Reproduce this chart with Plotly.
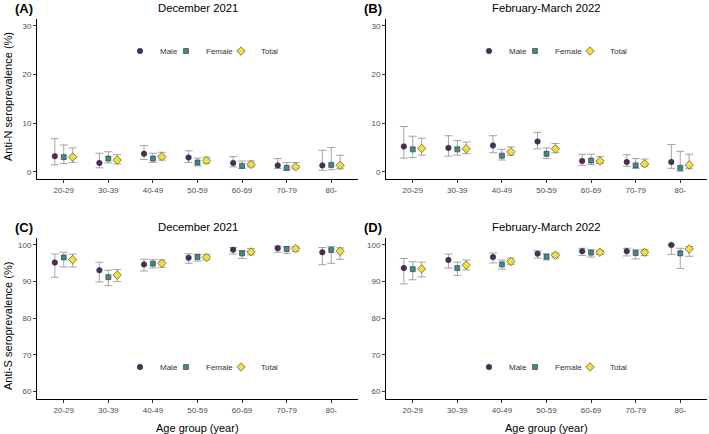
import plotly.graph_objects as go

age_groups = ["20-29", "30-39", "40-49", "50-59", "60-69", "70-79", "80-"]
series_names = ["Male", "Female", "Total"]

# Panel A: Anti-N, December 2021
a_male = [3.2, 1.8, 3.7, 2.9, 1.8, 1.3, 1.3]
a_male_lo = [1.4, 0.8, 2.5, 1.9, 1.0, 0.7, 0.3]
a_male_hi = [6.8, 3.8, 5.4, 4.3, 3.1, 2.7, 4.4]
a_female = [3.0, 2.7, 2.7, 1.9, 1.2, 0.8, 1.4]
a_female_lo = [1.7, 1.8, 1.9, 1.2, 0.7, 0.3, 0.4]
a_female_hi = [5.5, 4.1, 3.8, 2.8, 2.2, 1.9, 5.0]
a_total = [3.0, 2.4, 3.1, 2.3, 1.5, 1.0, 1.3]
a_total_lo = [1.9, 1.6, 2.4, 1.7, 1.0, 0.6, 0.6]
a_total_hi = [4.9, 3.5, 4.0, 3.0, 2.2, 1.9, 3.4]

# Panel B: Anti-N, February-March 2022
b_male = [5.2, 4.9, 5.4, 6.2, 2.2, 2.0, 2.0]
b_male_lo = [2.8, 3.2, 3.9, 4.7, 1.3, 1.1, 0.7]
b_male_hi = [9.3, 7.4, 7.4, 8.1, 3.6, 3.5, 5.6]
b_female = [4.6, 4.6, 3.3, 3.7, 2.3, 1.3, 0.8]
b_female_lo = [2.9, 3.4, 2.4, 2.7, 1.5, 0.7, 0.1]
b_female_hi = [7.3, 6.4, 4.6, 4.9, 3.6, 2.7, 4.2]
b_total = [4.8, 4.7, 4.1, 4.7, 2.2, 1.6, 1.4]
b_total_lo = [3.4, 3.7, 3.4, 3.9, 1.7, 1.1, 0.6]
b_total_hi = [6.9, 6.1, 5.1, 5.8, 3.1, 2.6, 3.6]

# Panel C: Anti-S, December 2021
c_male = [95.2, 93.1, 94.7, 96.5, 98.7, 99.1, 98.0]
c_male_lo = [91.2, 89.9, 92.9, 95.0, 97.5, 98.0, 94.6]
c_male_hi = [97.5, 95.3, 96.1, 97.6, 99.3, 99.7, 99.3]
c_female = [96.6, 91.2, 94.9, 96.7, 97.7, 98.9, 98.6]
c_female_lo = [94.0, 88.9, 93.7, 95.6, 96.3, 97.7, 95.0]
c_female_hi = [98.0, 93.1, 96.0, 97.5, 98.5, 99.5, 99.6]
c_total = [96.0, 91.8, 95.0, 96.6, 98.1, 99.0, 98.3]
c_total_lo = [94.0, 90.0, 93.9, 95.9, 97.3, 98.2, 96.1]
c_total_hi = [97.5, 93.3, 95.9, 97.4, 99.0, 99.5, 99.2]

# Panel D: Anti-S, February-March 2022
d_male = [93.7, 95.9, 96.7, 97.6, 98.3, 98.3, 100.0]
d_male_lo = [89.4, 93.7, 95.1, 96.4, 97.1, 97.0, 97.4]
d_male_hi = [96.3, 97.5, 97.8, 98.4, 99.1, 99.1, 100.0]
d_female = [93.4, 93.7, 94.7, 96.8, 97.9, 97.8, 97.7]
d_female_lo = [90.5, 91.7, 93.4, 95.9, 96.7, 96.2, 93.6]
d_female_hi = [95.4, 95.3, 95.9, 97.6, 98.7, 98.7, 99.1]
d_total = [93.5, 94.5, 95.5, 97.2, 98.0, 98.0, 98.9]
d_total_lo = [91.3, 93.2, 94.7, 96.5, 97.4, 97.1, 96.9]
d_total_hi = [95.3, 95.9, 96.4, 97.8, 98.5, 98.7, 99.6]

panel_titles = ["December 2021", "February-March 2022", "December 2021", "February-March 2022"]
panel_labels = ["(A)", "(B)", "(C)", "(D)"]
y_titles = ["Anti-N seroprevalence (%)", "Anti-S seroprevalence (%)"]
x_title = "Age group (year)"

colors = ["#4A2C5E", "#3A8D89", "#F2DF3A"]
symbols = ["circle", "square", "diamond"]
marker_sizes = [5.5, 5, 6.5]
legend_widths = [1, 10, 0]

panels = [
    [(a_male, a_male_lo, a_male_hi), (a_female, a_female_lo, a_female_hi), (a_total, a_total_lo, a_total_hi)],
    [(b_male, b_male_lo, b_male_hi), (b_female, b_female_lo, b_female_hi), (b_total, b_total_lo, b_total_hi)],
    [(c_male, c_male_lo, c_male_hi), (c_female, c_female_lo, c_female_hi), (c_total, c_total_lo, c_total_hi)],
    [(d_male, d_male_lo, d_male_hi), (d_female, d_female_lo, d_female_hi), (d_total, d_total_lo, d_total_hi)],
]

W, H = 709, 434
FONT = "Liberation Sans, Arial, sans-serif"

xdom = [[37 / W, 358 / W], [386 / W, 707 / W], [37 / W, 358 / W], [386 / W, 707 / W]]
ydom = [[1 - 179 / H, 1 - 18.6 / H], [1 - 179 / H, 1 - 18.6 / H],
        [1 - 399 / H, 1 - 237.6 / H], [1 - 399 / H, 1 - 237.6 / H]]
yranges = [[-1.5, 31.5], [-1.5, 31.5], [58, 102], [58, 102]]
ytickvals = [[0, 10, 20, 30], [0, 10, 20, 30], [60, 70, 80, 90, 100], [60, 70, 80, 90, 100]]
legend_pos = [(120 / W, 1 - 51 / H), (469 / W, 1 - 51 / H),
              (120 / W, 1 - 367 / H), (469 / W, 1 - 367 / H)]

fig = go.Figure()
layout = dict(
    width=W, height=H,
    margin=dict(l=0, r=0, t=0, b=0),
    paper_bgcolor="white", plot_bgcolor="white",
    font=dict(family=FONT, color="#4D4D4D", size=8),
    scattermode="group", scattergap=0.4,
)

annotations = []
for p in range(4):
    xa = "x" if p == 0 else f"x{p + 1}"
    ya = "y" if p == 0 else f"y{p + 1}"
    lg = "legend" if p == 0 else f"legend{p + 1}"
    for s in range(3):
        est, lo, hi = panels[p][s]
        tr = dict(
            x=age_groups, y=est, name=series_names[s], mode="markers",
            xaxis=xa, yaxis=ya, legend=lg, showlegend=True,
            marker=dict(symbol=symbols[s], color=colors[s], size=marker_sizes[s],
                        line=dict(color="#333333", width=0.6)),
            error_y=dict(type="data", symmetric=False,
                         array=[h - e for h, e in zip(hi, est)],
                         arrayminus=[e - l for e, l in zip(est, lo)],
                         color="#9A9A9A", thickness=0.9, width=4),
        )
        if legend_widths[s]:
            tr["legendwidth"] = legend_widths[s]
        fig.add_trace(go.Scatter(**tr))
    axname_x = "xaxis" if p == 0 else f"xaxis{p + 1}"
    axname_y = "yaxis" if p == 0 else f"yaxis{p + 1}"
    layout[axname_x] = dict(
        domain=xdom[p], anchor=ya, type="category", categoryorder="array",
        categoryarray=age_groups, range=[-0.6, 6.6], showgrid=False, zeroline=False,
        showline=True, linecolor="black", linewidth=1, ticks="outside", ticklen=3,
        tickcolor="#333333", tickfont=dict(size=8, color="#4D4D4D"), fixedrange=True,
    )
    layout[axname_y] = dict(
        domain=ydom[p], anchor=xa, range=yranges[p], tickvals=ytickvals[p],
        showgrid=False, zeroline=False, showline=True, linecolor="black", linewidth=1,
        ticks="outside", ticklen=3, tickcolor="#333333",
        tickfont=dict(size=8, color="#4D4D4D"),
    )
    layout[lg] = dict(
        orientation="h", x=legend_pos[p][0], y=legend_pos[p][1],
        xanchor="left", yanchor="middle", bgcolor="rgba(0,0,0,0)",
        font=dict(size=8, color="#333333"), itemclick=False, itemdoubleclick=False,
        tracegroupgap=0,
    )
    cx = (xdom[p][0] + xdom[p][1]) / 2
    ty = 1 - 8 / H if p < 2 else 1 - 227 / H
    annotations.append(dict(text=panel_titles[p], x=cx, y=ty, xref="paper", yref="paper",
                            showarrow=False, xanchor="center", yanchor="middle",
                            font=dict(size=11.3, color="black", family=FONT)))
    lx = 24 / W if p % 2 == 0 else 373 / W
    annotations.append(dict(text="<b>" + panel_labels[p] + "</b>", x=lx, y=ty, xref="paper",
                            yref="paper", showarrow=False, xanchor="center", yanchor="middle",
                            font=dict(size=13, color="black", family=FONT)))
    if p >= 2:
        annotations.append(dict(text=x_title, x=cx, y=1 - 428 / H, xref="paper", yref="paper",
                                showarrow=False, xanchor="center", yanchor="middle",
                                font=dict(size=11, color="black", family=FONT)))

annotations.append(dict(text=y_titles[0], x=8 / W, y=1 - 97 / H, xref="paper", yref="paper",
                        showarrow=False, textangle=-90, xanchor="center", yanchor="middle",
                        font=dict(size=11, color="black", family=FONT)))
annotations.append(dict(text=y_titles[1], x=8 / W, y=1 - 326 / H, xref="paper", yref="paper",
                        showarrow=False, textangle=-90, xanchor="center", yanchor="middle",
                        font=dict(size=11, color="black", family=FONT)))

layout["annotations"] = annotations
fig.update_layout(**layout)
fig.write_html("out.html", config={"displayModeBar": False},
               post_script="document.body.style.margin='0';document.body.style.padding='0';")
